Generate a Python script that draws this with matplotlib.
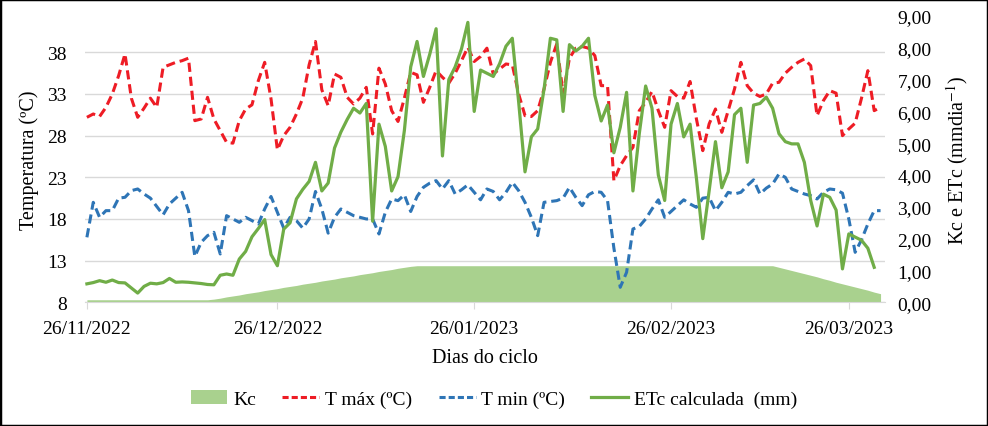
import numpy as np
import matplotlib
matplotlib.use('Agg')
import matplotlib.pyplot as plt
import matplotlib.transforms as mtransforms
from matplotlib.patches import Patch, Rectangle
from matplotlib.lines import Line2D
from matplotlib.ticker import FuncFormatter

plt.rcParams['font.family'] = ['Liberation Serif', 'DejaVu Serif']
plt.rcParams['mathtext.fontset'] = 'stix'

# dados diários a partir de 26/11/2022
t_max = [30.2, 30.6, 30.3, 31.4, 33.0, 35.2, 37.8, 32.5, 30.2, 31.3,
         32.5, 31.4, 36.2, 36.5, 36.8, 37.0, 37.3, 29.8, 30.0, 32.6,
         30.0, 28.6, 27.2, 27.1, 29.8, 31.2, 31.7, 34.6, 36.8, 32.4,
         26.3, 28.0, 29.0, 30.6, 32.5, 36.5, 39.3, 33.5, 31.6, 35.4,
         35.0, 32.6, 31.8, 32.5, 33.8, 28.2, 36.1, 34.2, 31.0, 29.7,
         32.5, 35.6, 35.3, 32.0, 33.8, 35.8, 35.0, 34.3, 35.5, 37.0,
         38.6, 36.9, 37.5, 38.5, 35.4, 36.0, 36.6, 36.5, 33.0, 30.4,
         30.3, 31.0, 33.6, 36.8, 39.0, 33.0, 37.3, 38.5, 38.7, 38.5,
         37.6, 34.0, 34.0, 22.6, 24.4, 25.6, 26.6, 31.0, 32.0, 33.3,
         31.0, 29.0, 33.4, 32.7, 32.5, 34.5, 30.0, 26.2, 29.4, 31.2,
         28.4, 31.0, 33.6, 36.8, 34.0, 33.1, 32.7, 33.0, 34.3, 34.4,
         35.5, 36.2, 36.8, 37.2, 36.4, 30.4, 32.2, 33.4, 33.1, 28.0,
         28.8, 29.5, 32.5, 35.8, 31.0, 31.4]

t_min = [15.8, 20.0, 18.2, 19.0, 19.0, 20.5, 20.6, 21.4, 21.6, 21.0,
         20.5, 19.5, 18.5, 19.8, 20.5, 21.2, 19.0, 13.5, 15.2, 16.0,
         16.4, 13.8, 18.4, 18.0, 17.6, 18.2, 17.8, 17.4, 19.2, 20.7,
         18.8, 16.9, 18.2, 17.8, 16.9, 18.0, 21.3, 19.2, 16.3, 18.2,
         19.2, 18.8, 18.4, 18.2, 18.0, 18.0, 16.2, 18.8, 20.4, 20.2,
         20.9, 18.9, 20.7, 21.8, 22.3, 22.6, 21.6, 22.6, 21.0, 21.5,
         22.1, 21.2, 20.3, 21.6, 21.3, 20.3, 21.2, 22.4, 21.4, 20.0,
         18.2, 16.0, 20.0, 20.1, 20.2, 20.5, 21.8, 20.6, 19.6, 20.9,
         21.3, 21.2, 20.2, 14.5, 9.8, 11.6, 16.8, 17.1, 18.0, 19.2,
         20.3, 18.2, 18.9, 19.6, 20.3, 19.8, 19.4, 20.5, 20.6, 19.0,
         20.0, 21.2, 21.0, 21.2, 22.0, 22.7, 21.0, 21.7, 22.2, 23.4,
         23.0, 21.6, 21.3, 21.0, 20.8, 20.4, 21.2, 21.6, 21.5, 21.1,
         18.0, 14.0, 15.5, 17.4, 19.0, 19.0]

etc_calc = [0.58, 0.62, 0.68, 0.63, 0.70, 0.62, 0.61, 0.45, 0.29, 0.50,
            0.60, 0.58, 0.62, 0.75, 0.63, 0.64, 0.63, 0.61, 0.59, 0.56,
            0.55, 0.85, 0.89, 0.85, 1.36, 1.60, 2.06, 2.32, 2.60, 1.50,
            1.15, 2.30, 2.50, 3.25, 3.55, 3.80, 4.40, 3.50, 3.75, 4.85,
            5.35, 5.75, 6.10, 5.95, 6.25, 2.55, 5.60, 4.90, 3.50, 3.95,
            5.40, 7.40, 8.20, 7.10, 7.80, 8.60, 4.60, 7.00, 7.40, 7.97,
            8.80, 6.00, 7.30, 7.20, 7.10, 7.50, 8.05, 8.30, 6.30, 4.10,
            5.20, 5.45, 6.70, 8.30, 8.25, 6.00, 8.10, 7.90, 8.05, 8.30,
            6.50, 5.70, 6.20, 4.70, 5.50, 6.60, 3.50, 5.30, 6.80, 6.10,
            4.00, 3.20, 5.60, 6.25, 5.20, 5.60, 3.90, 2.00, 3.50, 5.05,
            3.60, 4.10, 5.90, 6.10, 4.40, 6.20, 6.25, 6.45, 6.10, 5.30,
            5.05, 4.98, 4.98, 4.40, 3.20, 2.40, 3.40, 3.30, 2.90, 1.05,
            2.15, 2.05, 1.95, 1.70, 1.10]

kc = [0.08, 0.08, 0.08, 0.08, 0.08, 0.08, 0.08, 0.08, 0.08, 0.08,
      0.08, 0.08, 0.08, 0.08, 0.08, 0.08, 0.08, 0.08, 0.08, 0.08,
      0.10, 0.13, 0.17, 0.20, 0.23, 0.27, 0.30, 0.33, 0.37, 0.40,
      0.43, 0.47, 0.50, 0.53, 0.57, 0.60, 0.63, 0.67, 0.70, 0.73,
      0.77, 0.80, 0.83, 0.87, 0.90, 0.93, 0.97, 1.00, 1.03, 1.07,
      1.10, 1.13, 1.15, 1.15, 1.15, 1.15, 1.15, 1.15, 1.15, 1.15,
      1.15, 1.15, 1.15, 1.15, 1.15, 1.15, 1.15, 1.15, 1.15, 1.15,
      1.15, 1.15, 1.15, 1.15, 1.15, 1.15, 1.15, 1.15, 1.15, 1.15,
      1.15, 1.15, 1.15, 1.15, 1.15, 1.15, 1.15, 1.15, 1.15, 1.15,
      1.15, 1.15, 1.15, 1.15, 1.15, 1.15, 1.15, 1.15, 1.15, 1.15,
      1.15, 1.15, 1.15, 1.15, 1.15, 1.15, 1.15, 1.15, 1.15, 1.10,
      1.05, 1.00, 0.95, 0.90, 0.85, 0.80, 0.74, 0.69, 0.63, 0.58,
      0.53, 0.48, 0.43, 0.38, 0.32, 0.27]

tick_dias = [0, 30, 61, 92, 120]
tick_rotulos = ['26/11/2022', '26/12/2022', '26/01/2023', '26/02/2023', '26/03/2023']
temp_ticks = [8, 13, 18, 23, 28, 33, 38]
etc_ticks = [0, 1, 2, 3, 4, 5, 6, 7, 8, 9]

cor_kc = '#a9d18e'
cor_max = '#ee1c25'
cor_min = '#2e75b6'
cor_etc = '#70ad47'
cor_grade = '#d9d9d9'

fig = plt.figure(figsize=(9.88, 4.27), dpi=100)
ax1 = fig.add_axes([85 / 988, 1 - 303.3 / 427, 800 / 988, 286.3 / 427])
ax2 = ax1.twinx()

# Kc fica atrás das linhas de temperatura, mas usa a escala da direita
trans_kc = mtransforms.blended_transform_factory(ax1.transData, ax2.transData)
ax1.fill_between(np.arange(len(kc)), 0, kc, transform=trans_kc,
                 color=cor_kc, lw=0, zorder=1.5)

ax1.plot(np.arange(len(t_max)), t_max, color=cor_max, lw=2.2,
         dashes=(3, 1.6), zorder=3)
ax1.plot(np.arange(len(t_min)), t_min, color=cor_min, lw=2.2,
         dashes=(3, 1.6), zorder=3)
ax2.plot(np.arange(len(etc_calc)), etc_calc, color=cor_etc, lw=2.3)

ax1.set_ylim(8, 42.36)
ax2.set_ylim(0, 9)
ax1.set_xlim(-0.3, 125.7)

ax1.set_yticks(temp_ticks)
ax1.grid(axis='y', color=cor_grade, lw=1)
ax1.set_axisbelow(True)
ax1.set_xticks(tick_dias)
ax1.set_xticklabels(tick_rotulos)
ax2.set_yticks(etc_ticks)
ax2.yaxis.set_major_formatter(FuncFormatter(lambda v, p: f'{v:.2f}'.replace('.', ',')))

for s in ['top', 'left', 'right']:
    ax1.spines[s].set_visible(False)
ax1.spines['bottom'].set_color(cor_grade)
for s in ax2.spines.values():
    s.set_visible(False)

ax1.tick_params(axis='y', length=0, pad=13, labelsize=14)
ax1.tick_params(axis='x', length=5, color=cor_grade, pad=8, labelsize=14)
ax2.tick_params(axis='y', length=0, pad=9, labelsize=14)

ax1.set_xlabel('Dias do ciclo', fontsize=14.5, labelpad=8)
ax1.set_ylabel('Temperatura (ºC)', fontsize=14.5, labelpad=6)
ax2.set_ylabel(r'Kc e ETc (mmdia$^{-1}$)', fontsize=14.5, labelpad=9)

handles = [Patch(facecolor=cor_kc, edgecolor='none'),
           Line2D([], [], color=cor_max, lw=2.2, dashes=(2, 1)),
           Line2D([], [], color=cor_min, lw=2.2, dashes=(2, 1)),
           Line2D([], [], color=cor_etc, lw=2.3)]
labels = ['Kc', 'T máx (ºC)', 'T min (ºC)', 'ETc calculada  (mm)']
fig.legend(handles, labels, loc='center', bbox_to_anchor=(494 / 988, 1 - 400 / 427),
           ncol=4, frameon=False, fontsize=14, handlelength=1.9,
           columnspacing=1.35, handletextpad=0.3)

fig.patches.append(Rectangle((0, 0), 1, 1, transform=fig.transFigure,
                             fill=False, edgecolor='black', lw=2.5))

fig.savefig('out.png', dpi=100)
